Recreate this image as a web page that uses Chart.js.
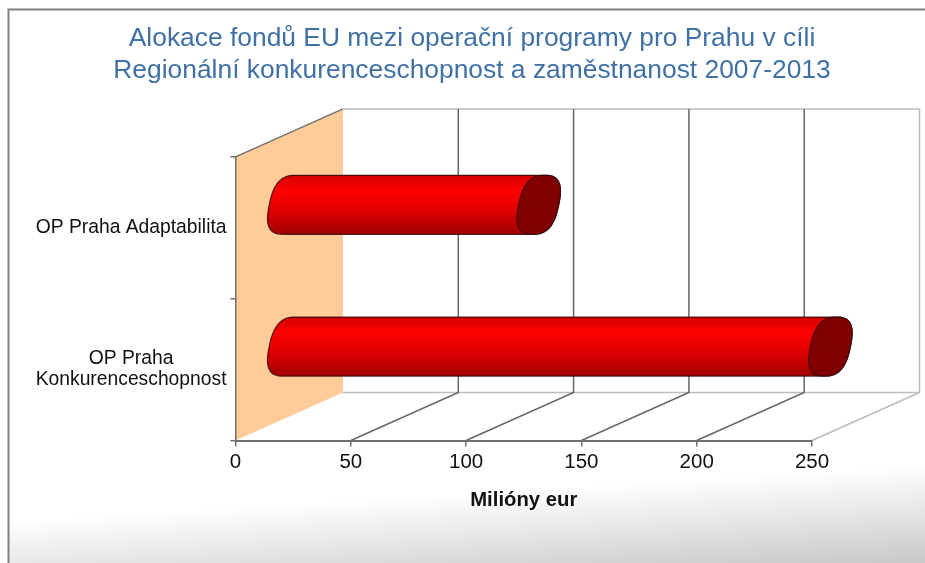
<!DOCTYPE html>
<html><head><meta charset="utf-8">
<script src="https://cdn.jsdelivr.net/npm/chart.js@4"></script>
<style>html,body{margin:0;padding:0;background:#fff}#w{position:relative;width:925px;height:563px;overflow:hidden}canvas{display:block;filter:blur(.5px)}</style>
</head><body><div id="w"><canvas id="c" width="925" height="563"></canvas></div>
<script>
const categories = ["OP Praha Adaptabilita", ["OP Praha", "Konkurenceschopnost"]];
const values = [108.5, 235];
const titleLines = ["Alokace fondů EU mezi operační programy pro Prahu v cíli", "Regionální konkurenceschopnost a zaměstnanost 2007-2013"];
const axisTitle = "Milióny eur";
const xMax = 250, xStep = 50;

const FONT = '"Liberation Sans", Arial, sans-serif';
const DX = 107.5, DY = -48;          // depth of the 3D box
const BAR_DX = 53, BAR_DY = -23;     // depth position of the series
const CAP_A = 20, CAP_S = 6, CAP_P = 0.75;    // end-cap shape

function barGradient(ctx, top, bottom) {
  const g = ctx.createLinearGradient(0, top, 0, bottom);
  g.addColorStop(0, '#d00000');
  g.addColorStop(0.25, '#ff0000');
  g.addColorStop(0.6, '#e00000');
  g.addColorStop(1, '#a00000');
  return g;
}
function pw(v) { return Math.sign(v) * Math.pow(Math.abs(v), CAP_P); }
function ell(cx, cy, r, t) {
  const c = pw(Math.cos(t)), s = pw(Math.sin(t));
  return [cx + CAP_A * c + CAP_S * s, cy - r * s];
}
function silhouette(ctx, x0, x1, cy, r) {
  for (let i = 0; i <= 40; i++) {
    const t = Math.PI / 2 - i / 40 * Math.PI;
    const p = ell(x1, cy, r, t);
    i ? ctx.lineTo(p[0], p[1]) : ctx.moveTo(p[0], p[1]);
  }
  for (let i = 0; i <= 40; i++) {
    const t = -Math.PI / 2 - i / 40 * Math.PI;
    const p = ell(x0, cy, r, t);
    ctx.lineTo(p[0], p[1]);
  }
  ctx.closePath();
}

const box3d = {
  id: 'box3d',
  afterLayout(chart) {
    // centre the title on the page frame rather than on the plot
    chart.titleBlock.right = chart.width + 1;
  },
  beforeDraw(chart) {
    const ctx = chart.ctx, a = chart.chartArea, x = chart.scales.x;
    ctx.save();
    ctx.fillStyle = '#fff';
    ctx.fillRect(0, 0, 925, 563);
    const g = ctx.createLinearGradient(925, 465, 931, 563);
    g.addColorStop(0, '#ffffff');
    g.addColorStop(1, '#c8c8c8');
    ctx.fillStyle = g;
    ctx.fillRect(9, 460, 916, 103);
    ctx.strokeStyle = '#808080';
    ctx.lineWidth = 2;
    ctx.beginPath();
    ctx.moveTo(8.5, 563); ctx.lineTo(8.5, 9.5); ctx.lineTo(925, 9.5);
    ctx.stroke();
    // left wall
    ctx.fillStyle = '#ffcc99';
    ctx.beginPath();
    ctx.moveTo(a.left, a.top);
    ctx.lineTo(a.left + DX, a.top + DY);
    ctx.lineTo(a.left + DX, a.bottom + DY);
    ctx.lineTo(a.left, a.bottom);
    ctx.closePath();
    ctx.fill();
    ctx.lineWidth = 1.5;
    ctx.strokeStyle = '#707070';
    ctx.beginPath();
    ctx.moveTo(a.left, a.top); ctx.lineTo(a.left + DX, a.top + DY);
    ctx.stroke();
    // back wall outline
    ctx.strokeStyle = '#bdbdbd';
    ctx.beginPath();
    ctx.moveTo(a.left + DX, a.top + DY);
    ctx.lineTo(a.right + DX, a.top + DY);
    ctx.lineTo(a.right + DX, a.bottom + DY);
    ctx.lineTo(a.left + DX, a.bottom + DY);
    ctx.stroke();
    ctx.beginPath();
    ctx.moveTo(a.right, a.bottom); ctx.lineTo(a.right + DX, a.bottom + DY);
    ctx.stroke();
    // grid on the back wall and floor
    ctx.strokeStyle = '#666666';
    x.ticks.forEach(t => {
      const px = x.getPixelForValue(t.value);
      if (t.value === 0 || t.value === xMax) return;
      ctx.beginPath();
      ctx.moveTo(px, a.bottom);
      ctx.lineTo(px + DX, a.bottom + DY);
      ctx.lineTo(px + DX, a.top + DY);
      ctx.stroke();
    });
    ctx.restore();
  },
  beforeDatasetDraw(chart, args) {
    const ctx = chart.ctx, meta = args.meta;
    ctx.save();
    ctx.beginPath();
    meta.data.forEach(el => {
      const r = el.height / 2, cy = el.y + BAR_DY;
      silhouette(ctx, el.base + BAR_DX, el.x + BAR_DX, cy, r);
    });
    ctx.clip();
    ctx.translate(BAR_DX, BAR_DY);
  },
  afterDatasetDraw(chart, args) {
    const ctx = chart.ctx, meta = args.meta;
    ctx.restore();
    ctx.save();
    meta.data.forEach(el => {
      const r = el.height / 2, cy = el.y + BAR_DY;
      const x0 = el.base + BAR_DX, x1 = el.x + BAR_DX;
      ctx.beginPath();
      silhouette(ctx, x0, x1, cy, r);
      ctx.fillStyle = barGradient(ctx, cy - r, cy + r);
      ctx.fill();
      ctx.strokeStyle = 'rgba(50,10,10,.85)';
      ctx.lineWidth = 1.2;
      ctx.stroke();
      ctx.beginPath();
      for (let i = 0; i <= 60; i++) {
        const p = ell(x1, cy, r, i / 60 * 2 * Math.PI);
        i ? ctx.lineTo(p[0], p[1]) : ctx.moveTo(p[0], p[1]);
      }
      ctx.closePath();
      ctx.fillStyle = '#800000';
      ctx.fill();
      ctx.stroke();
    });
    ctx.restore();
  }
};

new Chart(document.getElementById('c'), {
  type: 'bar',
  plugins: [box3d],
  data: {
    labels: categories,
    datasets: [{
      data: values,
      barThickness: 59,
      borderWidth: 0,
      clip: false,
      backgroundColor: '#e00000'
    }]
  },
  options: {
    indexAxis: 'y',
    responsive: false,
    animation: false,
    layout: { padding: { left: 18, right: 113, top: 10, bottom: 50 } },
    plugins: {
      legend: { display: false },
      tooltip: { enabled: false },
      title: {
        display: true,
        text: titleLines,
        color: '#3f70a6',
        font: { family: FONT, size: 26.4, weight: 'normal', lineHeight: 1.21 },
        padding: { top: 13, bottom: 70 }
      }
    },
    scales: {
      x: {
        min: 0, max: xMax,
        afterFit(s) { s.height = 72.5; },
        ticks: { stepSize: xStep, maxRotation: 0, color: '#111', padding: 4, font: { family: FONT, size: 20.5 } },
        grid: { drawOnChartArea: false, color: '#707070', tickLength: 6, lineWidth: 1.5 },
        border: { color: '#707070', width: 2 },
        title: { display: true, text: axisTitle, color: '#111', padding: { top: 14, bottom: 0 }, font: { family: FONT, size: 20.3, weight: 'bold' } }
      },
      y: {
        afterFit(s) { s.width = 217.5; },
        ticks: { crossAlign: 'center', color: '#111', padding: 4, font: { family: FONT, size: 19.3, lineHeight: 1.09 } },
        grid: { drawOnChartArea: false, color: '#707070', tickLength: 5, lineWidth: 1.5 },
        border: { color: '#707070', width: 1.5 }
      }
    }
  }
});
</script></body></html>
